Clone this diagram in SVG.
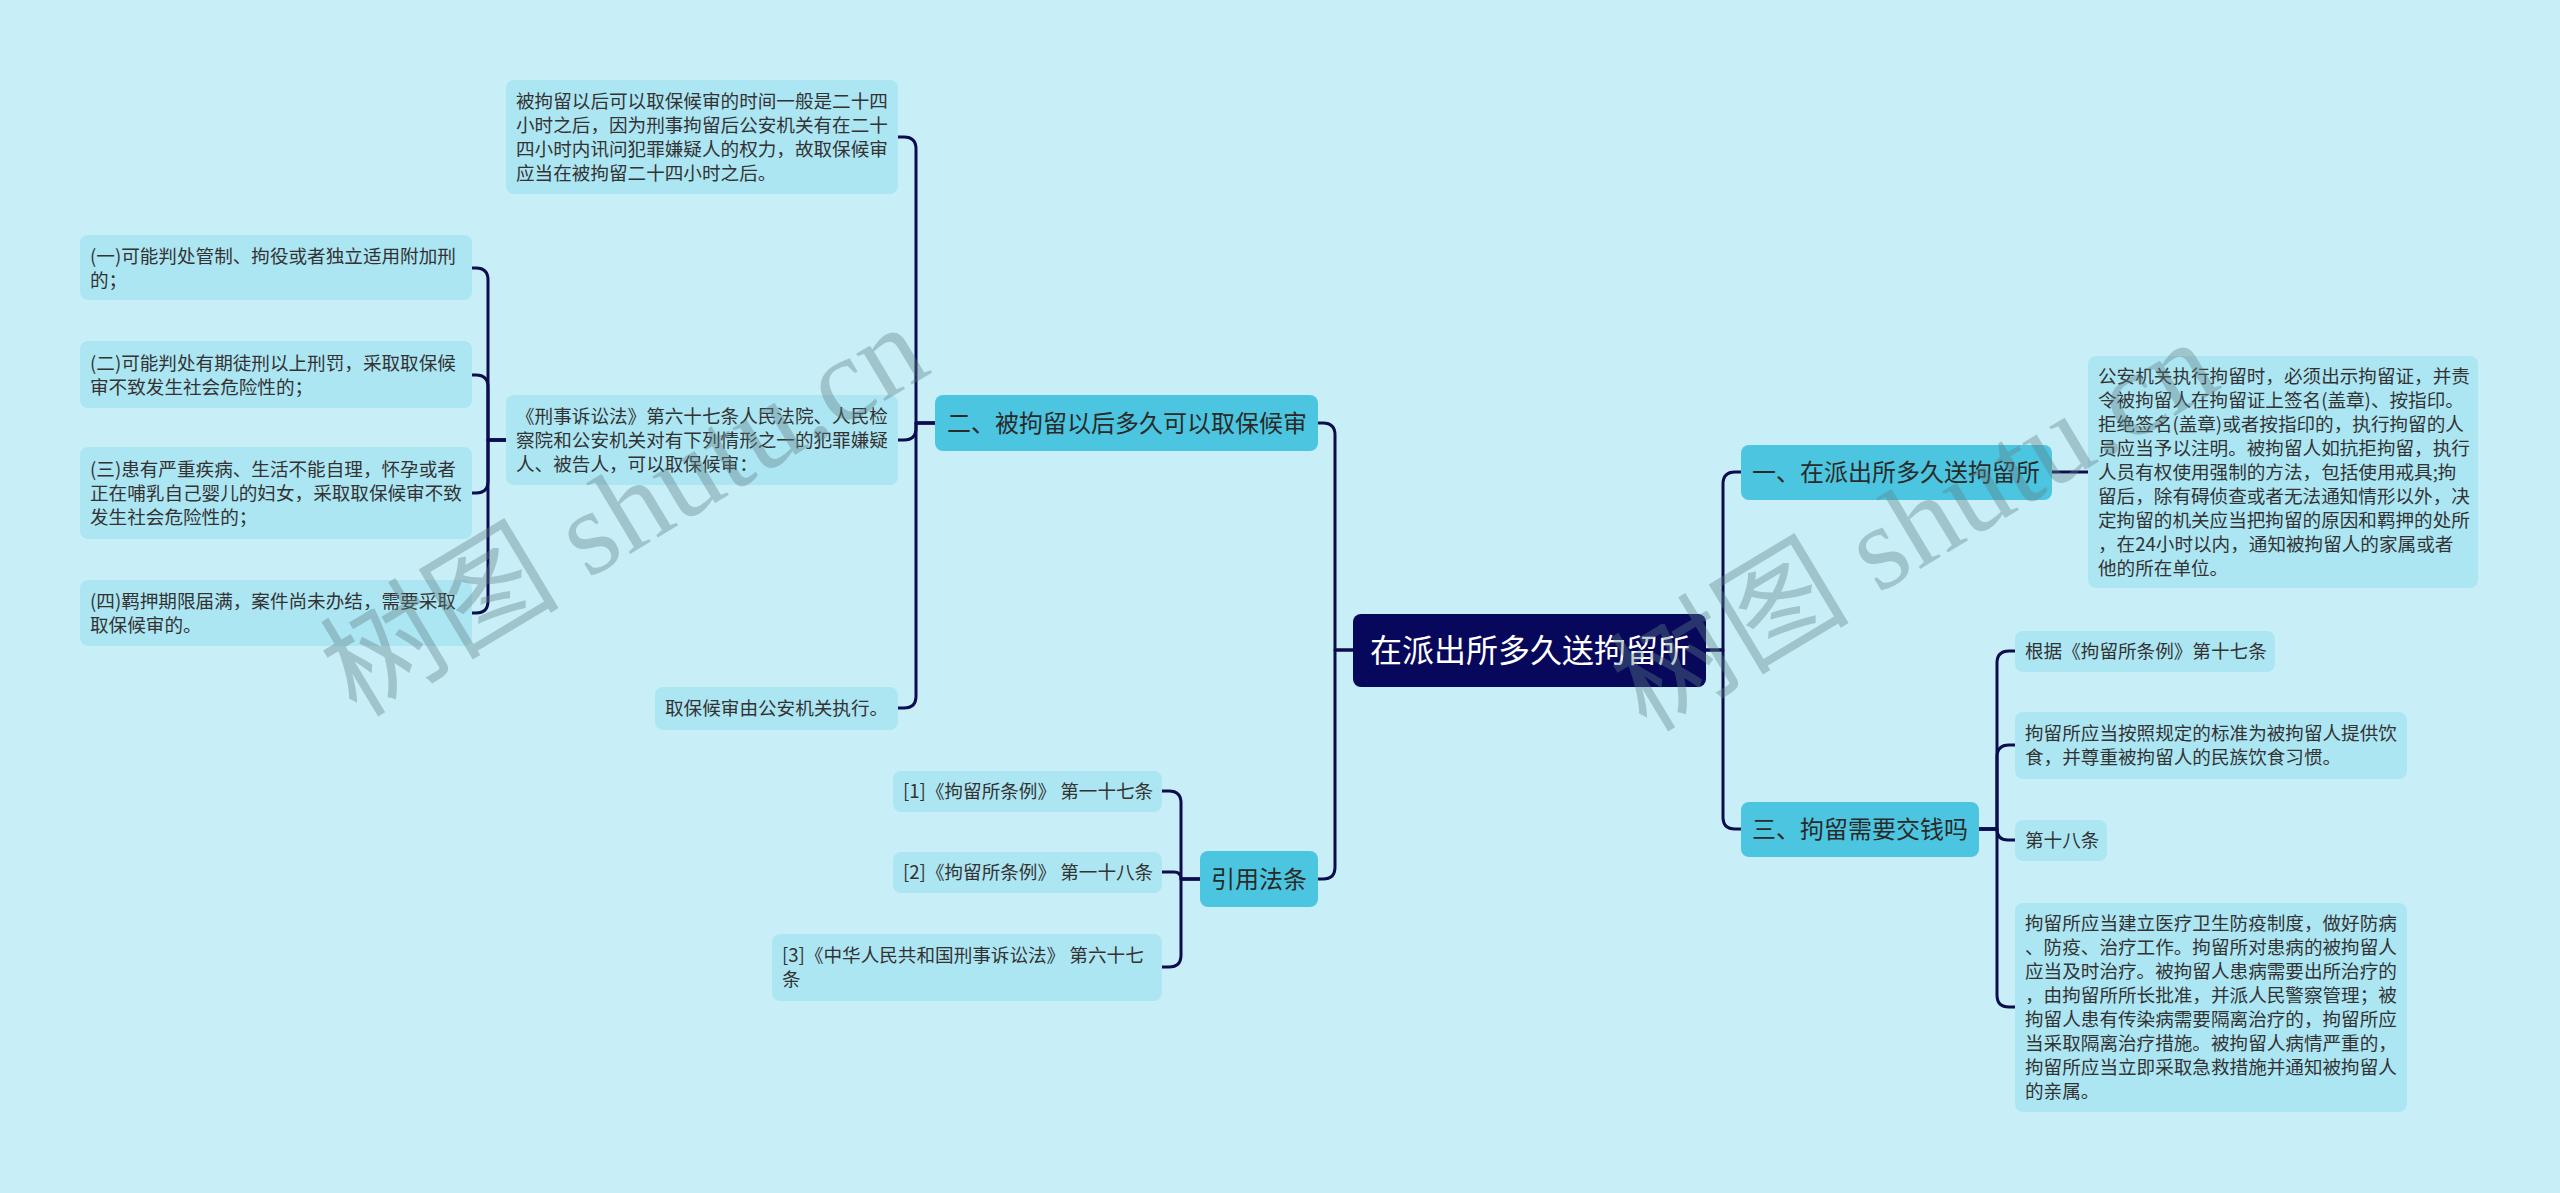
<svg xmlns="http://www.w3.org/2000/svg" width="2560" height="1193" viewBox="0 0 2560 1193">
<style>
.bg{fill:#c8eff8}
.tb{fill:#ade6f3}
.l1{fill:#4cc6e0}
.root{fill:#07075c}
.t{font-family:"Noto Sans CJK SC","Liberation Sans",sans-serif;font-size:18.6px;fill:#333}
.t1{font-family:"Noto Sans CJK SC","Liberation Sans",sans-serif;font-size:24px;fill:#2a2a2a;text-anchor:middle}
.tr{font-family:"Noto Sans CJK SC","Liberation Sans",sans-serif;font-size:32px;fill:#ffffff;text-anchor:middle}
.c{fill:none;stroke:#0c0c4e;stroke-width:3;stroke-linecap:round;stroke-linejoin:round}
.wm{font-family:"Liberation Serif","Noto Sans CJK SC",serif;font-size:120px;fill:#5f7f86;opacity:0.38;text-anchor:middle}
</style>
<rect class="bg" x="0" y="0" width="2560" height="1193"/>

<g id="connectors">
<path class="c" d="M1353 650 H1335 V435 Q1335 423 1323 423 H1318"/>
<path class="c" d="M1353 650 H1335 V867 Q1335 879 1323 879 H1318"/>
<path class="c" d="M1706 650 H1723 V484 Q1723 472 1735 472 H1741"/>
<path class="c" d="M1706 650 H1723 V817 Q1723 829 1735 829 H1741"/>
<path class="c" d="M2052 472 H2088"/>
<path class="c" d="M1979 829 H1997 V663 Q1997 651 2009 651 H2015"/>
<path class="c" d="M1979 829 H1997 V757 Q1997 745 2009 745 H2015"/>
<path class="c" d="M1979 829 H1997 V829 Q1997 840 2008 840 H2015"/>
<path class="c" d="M1979 829 H1997 V995 Q1997 1007 2009 1007 H2015"/>
<path class="c" d="M935 423 H916 V149 Q916 137 904 137 H898"/>
<path class="c" d="M935 423 H916 V428 Q916 440 904 440 H898"/>
<path class="c" d="M935 423 H916 V696 Q916 708 904 708 H898"/>
<path class="c" d="M506 440 H488 V280 Q488 268 476 268 H472"/>
<path class="c" d="M506 440 H488 V387 Q488 375 476 375 H472"/>
<path class="c" d="M506 440 H488 V481 Q488 493 476 493 H472"/>
<path class="c" d="M506 440 H488 V601 Q488 613 476 613 H472"/>
<path class="c" d="M1200 879 H1181 V803 Q1181 791 1169 791 H1162"/>
<path class="c" d="M1200 879 H1181 V879 Q1181 872 1174 872 H1162"/>
<path class="c" d="M1200 879 H1181 V955 Q1181 967 1169 967 H1162"/>
</g>

<g id="root">
<rect class="root" x="1353" y="614" width="353" height="73" rx="8"/>
<text class="tr" x="1530" y="662">在派出所多久送拘留所</text>
</g>

<g id="n-er">
<rect class="l1" x="935" y="395" width="383" height="56" rx="8"/>
<text class="t1" x="1127" y="432">二、被拘留以后多久可以取保候审</text>
</g>
<g id="n-yinyong">
<rect class="l1" x="1200" y="851" width="118" height="56" rx="8"/>
<text class="t1" x="1259" y="888">引用法条</text>
</g>
<g id="n-yi">
<rect class="l1" x="1741" y="445" width="311" height="55" rx="8"/>
<text class="t1" x="1896" y="481">一、在派出所多久送拘留所</text>
</g>
<g id="n-san">
<rect class="l1" x="1741" y="802" width="238" height="55" rx="8"/>
<text class="t1" x="1860" y="838">三、拘留需要交钱吗</text>
</g>

<g id="n-top">
<rect class="tb" x="506" y="80" width="392" height="114" rx="8"/>
<text class="t" x="516" y="108">被拘留以后可以取保候审的时间一般是二十四</text>
<text class="t" x="516" y="132">小时之后，因为刑事拘留后公安机关有在二十</text>
<text class="t" x="516" y="156">四小时内讯问犯罪嫌疑人的权力，故取保候审</text>
<text class="t" x="516" y="180">应当在被拘留二十四小时之后。</text>
</g>
<g id="n-xingshi">
<rect class="tb" x="506" y="395" width="392" height="90" rx="8"/>
<text class="t" x="516" y="423">《刑事诉讼法》第六十七条人民法院、人民检</text>
<text class="t" x="516" y="447">察院和公安机关对有下列情形之一的犯罪嫌疑</text>
<text class="t" x="516" y="471">人、被告人，可以取保候审：</text>
</g>
<g id="n-zhixing">
<rect class="tb" x="655" y="687" width="243" height="43" rx="8"/>
<text class="t" x="665" y="715">取保候审由公安机关执行。</text>
</g>
<g id="n-q1">
<rect class="tb" x="80" y="235" width="392" height="65" rx="8"/>
<text class="t" x="90" y="263">(一)可能判处管制、拘役或者独立适用附加刑</text>
<text class="t" x="90" y="287">的；</text>
</g>
<g id="n-q2">
<rect class="tb" x="80" y="341" width="392" height="67" rx="8"/>
<text class="t" x="90" y="370">(二)可能判处有期徒刑以上刑罚，采取取保候</text>
<text class="t" x="90" y="394">审不致发生社会危险性的；</text>
</g>
<g id="n-q3">
<rect class="tb" x="80" y="447" width="392" height="92" rx="8"/>
<text class="t" x="90" y="476">(三)患有严重疾病、生活不能自理，怀孕或者</text>
<text class="t" x="90" y="500">正在哺乳自己婴儿的妇女，采取取保候审不致</text>
<text class="t" x="90" y="524">发生社会危险性的；</text>
</g>
<g id="n-q4">
<rect class="tb" x="80" y="580" width="392" height="66" rx="8"/>
<text class="t" x="90" y="608">(四)羁押期限届满，案件尚未办结，需要采取</text>
<text class="t" x="90" y="632">取保候审的。</text>
</g>

<g id="n-ref1">
<rect class="tb" x="893" y="771" width="269" height="41" rx="8"/>
<text class="t" x="903" y="798">[1]《拘留所条例》 第一十七条</text>
</g>
<g id="n-ref2">
<rect class="tb" x="893" y="852" width="269" height="41" rx="8"/>
<text class="t" x="903" y="879">[2]《拘留所条例》 第一十八条</text>
</g>
<g id="n-ref3">
<rect class="tb" x="772" y="934" width="390" height="67" rx="8"/>
<text class="t" x="782" y="962">[3]《中华人民共和国刑事诉讼法》 第六十七</text>
<text class="t" x="782" y="986">条</text>
</g>

<g id="n-right">
<rect class="tb" x="2088" y="356" width="390" height="232" rx="8"/>
<text class="t" x="2098" y="383">公安机关执行拘留时，必须出示拘留证，并责</text>
<text class="t" x="2098" y="407">令被拘留人在拘留证上签名(盖章)、按指印。</text>
<text class="t" x="2098" y="431">拒绝签名(盖章)或者按指印的，执行拘留的人</text>
<text class="t" x="2098" y="455">员应当予以注明。被拘留人如抗拒拘留，执行</text>
<text class="t" x="2098" y="479">人员有权使用强制的方法，包括使用戒具;拘</text>
<text class="t" x="2098" y="503">留后，除有碍侦查或者无法通知情形以外，决</text>
<text class="t" x="2098" y="527">定拘留的机关应当把拘留的原因和羁押的处所</text>
<text class="t" x="2098" y="551">，在24小时以内，通知被拘留人的家属或者</text>
<text class="t" x="2098" y="575">他的所在单位。</text>
</g>

<g id="n-s1">
<rect class="tb" x="2015" y="631" width="260" height="41" rx="8"/>
<text class="t" x="2025" y="658">根据《拘留所条例》第十七条</text>
</g>
<g id="n-s2">
<rect class="tb" x="2015" y="712" width="392" height="67" rx="8"/>
<text class="t" x="2025" y="740">拘留所应当按照规定的标准为被拘留人提供饮</text>
<text class="t" x="2025" y="764">食，并尊重被拘留人的民族饮食习惯。</text>
</g>
<g id="n-s3">
<rect class="tb" x="2015" y="820" width="92" height="41" rx="8"/>
<text class="t" x="2025" y="847">第十八条</text>
</g>
<g id="n-s4">
<rect class="tb" x="2015" y="903" width="392" height="209" rx="8"/>
<text class="t" x="2025" y="930">拘留所应当建立医疗卫生防疫制度，做好防病</text>
<text class="t" x="2025" y="954">、防疫、治疗工作。拘留所对患病的被拘留人</text>
<text class="t" x="2025" y="978">应当及时治疗。被拘留人患病需要出所治疗的</text>
<text class="t" x="2025" y="1002">，由拘留所所长批准，并派人民警察管理；被</text>
<text class="t" x="2025" y="1026">拘留人患有传染病需要隔离治疗的，拘留所应</text>
<text class="t" x="2025" y="1050">当采取隔离治疗措施。被拘留人病情严重的，</text>
<text class="t" x="2025" y="1074">拘留所应当立即采取急救措施并通知被拘留人</text>
<text class="t" x="2025" y="1098">的亲属。</text>
</g>

<g id="watermarks">
<text class="wm" transform="translate(645,545) rotate(-31)">树图 shutu.cn</text>
<text class="wm" transform="translate(1935,560) rotate(-31)">树图 shutu.cn</text>
</g>
</svg>
